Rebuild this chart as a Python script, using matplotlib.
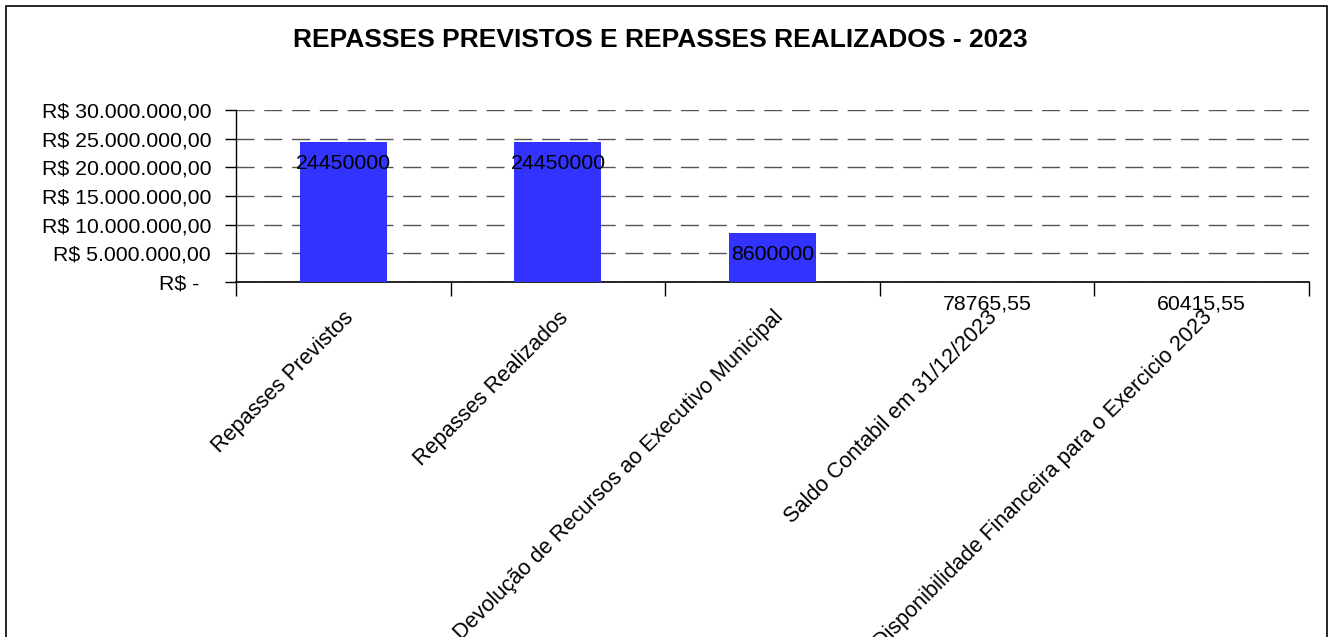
import numpy as np
import matplotlib
matplotlib.use("Agg")
from matplotlib import pyplot as plt
from matplotlib.patches import Rectangle
from matplotlib.ticker import FuncFormatter
from matplotlib.transforms import ScaledTranslation

plt.rcParams["font.family"] = ["Liberation Sans", "DejaVu Sans"]

categories = [
    "Repasses Previstos",
    "Repasses Realizados",
    "Devolução de Recursos ao Executivo Municipal",
    "Saldo Contabil em 31/12/2023",
    "Disponibilidade Financeira para o Exercicio 2023",
]
values = [24450000, 24450000, 8600000, 78765.55, 60415.55]
y_ticks = [0, 5e6, 10e6, 15e6, 20e6, 25e6, 30e6]


def brl(v, pos=None):
    if v == 0:
        return "R$ -  "
    s = f"{v:,.2f}"
    s = s.replace(",", "X").replace(".", ",").replace("X", ".")
    return f"R$ {s}"


def value_label(v):
    if float(v).is_integer():
        return str(int(v))
    return f"{v:.2f}".replace(".", ",")


fig = plt.figure(figsize=(13.33, 6.37), dpi=100)
fig.patches.append(
    Rectangle((6 / 1333, -0.1), 1321 / 1333, 1.1 - 6 / 637,
              transform=fig.transFigure, fill=False, edgecolor="black",
              linewidth=1.2, zorder=0)
)

ax = fig.add_axes([236 / 1333, 1 - 282 / 637, (1309 - 236) / 1333, 172 / 637])

x = np.arange(len(categories))
bars = ax.bar(x, values, width=0.405, color="#3333FF", zorder=3)

for xi, v in zip(x, values):
    ax.annotate(value_label(v), (xi, v), xytext=(0, -22),
                textcoords="offset pixels", ha="center", va="center",
                fontsize=15.3, color="black", zorder=4)

ax.set_xlim(-0.5, len(categories) - 0.5)
ax.set_ylim(0, 30e6)
ax.set_yticks(y_ticks)
ax.yaxis.set_major_formatter(FuncFormatter(brl))
ax.tick_params(axis="y", labelsize=15.3, length=8, width=1, pad=10, direction="out")

ax.set_xticks(x)
ax.set_xticklabels(categories, rotation=45, ha="right", va="top",
                   rotation_mode="anchor", fontsize=15.6)
shift = ScaledTranslation(-5 / 100, 0, fig.dpi_scale_trans)
for lbl in ax.get_xticklabels():
    lbl.set_transform(lbl.get_transform() + shift)
ax.set_xticks(np.arange(len(categories) + 1) - 0.5, minor=True)
ax.tick_params(axis="x", which="major", length=0, pad=18)
ax.tick_params(axis="x", which="minor", length=10, width=1, direction="out")

ax.grid(axis="y", color="#555555", linestyle=(0, (13, 7)), linewidth=1, zorder=1)
ax.set_axisbelow(True)
for side in ["top", "right"]:
    ax.spines[side].set_visible(False)
ax.spines["left"].set_linewidth(1)
ax.spines["bottom"].set_linewidth(1.2)

fig.text(660 / 1333, 1 - 40 / 637,
         "REPASSES PREVISTOS E REPASSES REALIZADOS - 2023",
         ha="center", va="center", fontsize=19, fontweight="bold")

fig.savefig("out.png", dpi=100, facecolor="white")
